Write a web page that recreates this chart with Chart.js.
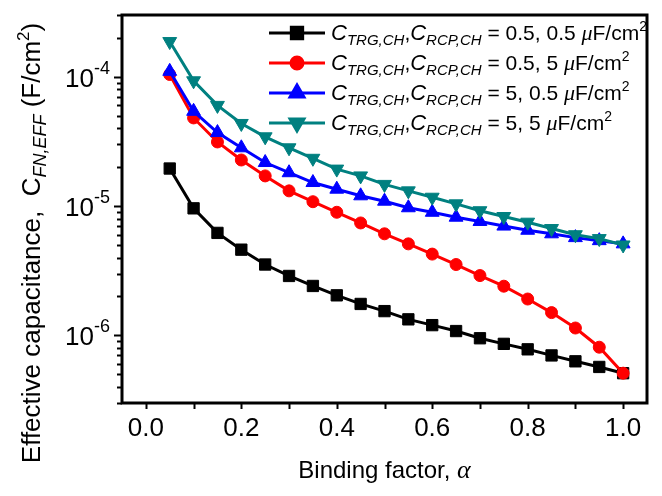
<!DOCTYPE html>
<html><head><meta charset="utf-8">
<script src="https://cdn.jsdelivr.net/npm/chart.js@4/dist/chart.umd.min.js"></script>
<style>html,body{margin:0;padding:0;background:#fff}canvas{display:block}</style>
</head><body>
<canvas id="c" width="662" height="496"></canvas>
<script>
// ---- data ----
const alpha = [0.05,0.10,0.15,0.20,0.25,0.30,0.35,0.40,0.45,0.50,0.55,0.60,0.65,0.70,0.75,0.80,0.85,0.90,0.95,1.00];
const cBlack = [1.95e-5,9.6e-6,6.2e-6,4.6e-6,3.53e-6,2.88e-6,2.41e-6,2.04e-6,1.75e-6,1.54e-6,1.33e-6,1.20e-6,1.08e-6,9.5e-7,8.6e-7,7.8e-7,7.0e-7,6.3e-7,5.7e-7,5.1e-7];
const cRed   = [1.04e-4,4.8e-5,3.13e-5,2.27e-5,1.71e-5,1.31e-5,1.08e-5,8.95e-6,7.4e-6,6.1e-6,5.1e-6,4.25e-6,3.53e-6,2.9e-6,2.4e-6,1.91e-6,1.50e-6,1.14e-6,8.1e-7,5.1e-7];
const cBlue  = [1.1e-4,5.4e-5,3.7e-5,2.82e-5,2.17e-5,1.81e-5,1.52e-5,1.35e-5,1.2e-5,1.09e-5,9.7e-6,8.95e-6,8.2e-6,7.6e-6,7.0e-6,6.5e-6,6.1e-6,5.7e-6,5.4e-6,5.1e-6];
const cTeal  = [1.87e-4,9.3e-5,6.0e-5,4.35e-5,3.43e-5,2.82e-5,2.34e-5,1.93e-5,1.71e-5,1.47e-5,1.31e-5,1.17e-5,1.04e-5,9.2e-6,8.3e-6,7.5e-6,6.7e-6,6.0e-6,5.6e-6,5.0e-6];
const legendValues = ['0.5, 0.5','0.5, 5','5, 0.5','5, 5'];
const xTickLabels = ['0.0','0.2','0.4','0.6','0.8','1.0'];
const xTickValues = [0,0.2,0.4,0.6,0.8,1.0];
const yDecades = [-4,-5,-6];

const SANS = '"Liberation Sans", Arial, sans-serif';
const SERIF = '"Liberation Serif", "Times New Roman", serif';

const series = [
  {data:cBlack, color:'#000000', style:'rect', r:8, rot:0},
  {data:cRed,   color:'#ff0000', style:'circle', r:6, rot:0},
  {data:cBlue,  color:'#0000ff', style:'triangle', r:8, rot:0},
  {data:cTeal,  color:'#008080', style:'triangle', r:8, rot:180}
];

function drawRich(ctx, parts, x, y){
  for (const p of parts){ ctx.font = p.f; ctx.fillText(p.t, x, y + (p.dy||0)); x += ctx.measureText(p.t).width; }
  return x;
}
function richWidth(ctx, parts){
  let w=0; for (const p of parts){ ctx.font=p.f; w += ctx.measureText(p.t).width; } return w;
}

const decor = {
  id:'decor',
  afterDraw(chart){
    const ctx = chart.ctx, xs = chart.scales.x, ys = chart.scales.y, a = chart.chartArea;
    ctx.save();
    ctx.fillStyle = '#000'; ctx.strokeStyle = '#000';
    // frame
    ctx.lineWidth = 3;
    ctx.strokeRect(a.left, a.top, a.right-a.left, a.bottom-a.top);
    // y ticks (outward, left)
    ctx.lineWidth = 2;
    for (let e=-7; e<=-3; e++){
      for (let m=1; m<=9; m++){
        const v = m*Math.pow(10,e);
        if (v < ys.min*0.999 || v > ys.max*1.001) continue;
        const y = Math.round(ys.getPixelForValue(v))+0.5;
        const len = m===1 ? 8 : 5;
        ctx.beginPath(); ctx.moveTo(a.left-len, y); ctx.lineTo(a.left, y); ctx.stroke();
      }
    }
    // x ticks (outward, down)
    for (let i=0;i<=10;i++){
      const x = Math.round(xs.getPixelForValue(i/10))+0.5;
      ctx.beginPath(); ctx.moveTo(x, a.bottom); ctx.lineTo(x, a.bottom+6); ctx.stroke();
    }
    // x tick labels
    ctx.textAlign='center'; ctx.textBaseline='middle';
    ctx.font = `26px ${SANS}`;
    xTickValues.forEach((v,i)=>{ ctx.fillText(xTickLabels[i], xs.getPixelForValue(v), a.bottom+26); });
    // y tick labels
    ctx.textBaseline='alphabetic'; ctx.textAlign='left';
    yDecades.forEach(e=>{
      const y = ys.getPixelForValue(Math.pow(10,e));
      const parts = [{t:'10', f:`26px ${SANS}`},{t:String(e), f:`18px ${SANS}`, dy:-13}];
      const w = richWidth(ctx, parts);
      drawRich(ctx, parts, 110 - w, y + 10);
    });
    // x title
    {
      const parts = [{t:'Binding factor, ', f:`24px ${SANS}`},{t:'α', f:`italic 26px ${SERIF}`}];
      const w = richWidth(ctx, parts);
      drawRich(ctx, parts, (a.left+a.right)/2 - w/2, 478);
    }
    // y title (rotated)
    {
      const parts = [
        {t:'Effective capacitance,  C', f:`26px ${SANS}`},
        {t:'FN,EFF', f:`italic 18px ${SANS}`, dy:6},
        {t:' (F/cm', f:`26px ${SANS}`},
        {t:'2', f:`17px ${SANS}`, dy:-11},
        {t:')', f:`26px ${SANS}`}
      ];
      const w = richWidth(ctx, parts);
      ctx.save();
      ctx.translate(40, 243 + w/2);
      ctx.rotate(-Math.PI/2);
      drawRich(ctx, parts, 0, 0);
      ctx.restore();
    }
    // legend
    const rows = [33, 63, 93, 123];
    series.forEach((s,i)=>{
      const y = rows[i];
      ctx.strokeStyle = s.color; ctx.fillStyle = s.color; ctx.lineWidth = 3;
      ctx.beginPath(); ctx.moveTo(269, y); ctx.lineTo(325, y); ctx.stroke();
      Chart.helpers.drawPoint(ctx, {pointStyle:s.style, rotation:s.rot, radius:s.r, borderWidth:1}, 297, y);
      ctx.fill();
      ctx.fillStyle = '#000';
      const parts = [
        {t:'C', f:`italic 22px ${SANS}`},
        {t:'TRG,CH', f:`italic 15px ${SANS}`, dy:5},
        {t:',', f:`21px ${SANS}`},
        {t:'C', f:`italic 22px ${SANS}`},
        {t:'RCP,CH', f:`italic 15px ${SANS}`, dy:5},
        {t:' = '+legendValues[i]+' ', f:`21px ${SANS}`},
        {t:'μ', f:`italic 22px ${SERIF}`},
        {t:'F/cm', f:`21px ${SANS}`},
        {t:'2', f:`14px ${SANS}`, dy:-9}
      ];
      ctx.textBaseline='alphabetic';
      drawRich(ctx, parts, 331, y + 7);
    });
    ctx.restore();
  }
};

const datasets = series.map((s,i)=>({
  label: legendValues[i],
  data: alpha.map((a,j)=>({x:a, y:s.data[j]})),
  borderColor: s.color, backgroundColor: s.color,
  pointBackgroundColor: s.color, pointBorderColor: s.color,
  borderWidth: 3, pointStyle: s.style, pointRadius: s.r, pointRotation: s.rot,
  pointBorderWidth: 1, tension: 0, order: 4 - i
}));

new Chart(document.getElementById('c').getContext('2d'), {
  type:'line',
  data:{datasets},
  options:{
    responsive:false, animation:false, devicePixelRatio:1,
    layout:{padding:{left:122, right:15, top:15, bottom:93}},
    plugins:{legend:{display:false}, tooltip:{enabled:false}},
    scales:{
      x:{type:'linear', min:-0.05, max:1.05, display:false},
      y:{type:'logarithmic', min:3e-7, max:3e-4, display:false}
    }
  },
  plugins:[decor]
});
</script>
</body></html>
